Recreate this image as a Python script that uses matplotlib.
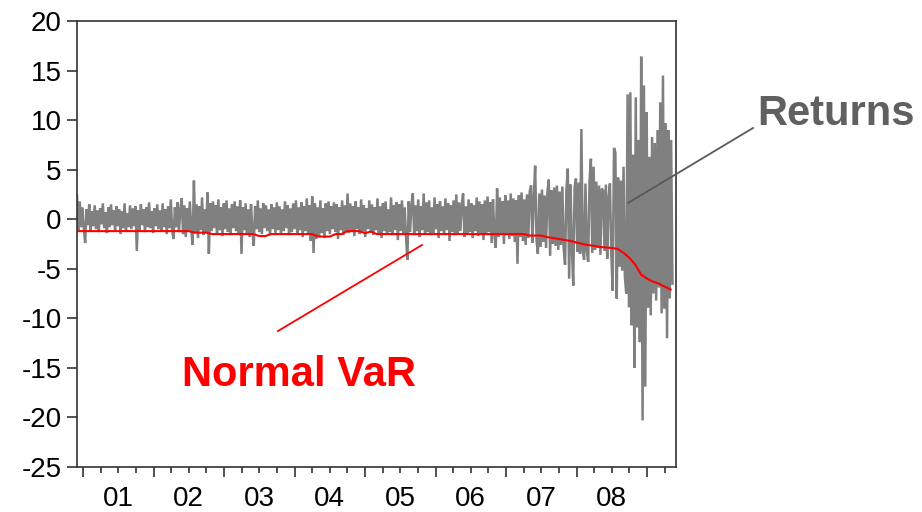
import numpy as np
import matplotlib
matplotlib.use("Agg")
import matplotlib.pyplot as plt
from matplotlib.lines import Line2D

plt.rcParams['font.family'] = ['Liberation Sans', 'DejaVu Sans']
plt.rcParams['axes.unicode_minus'] = False

# weekly returns (%), Dec 2000 - Apr 2009
returns = [
    2.4, -1.1, 1.8, -0.8, 1.2, -0.9, -2.4, 1.0, -0.6, 1.5,
    -1.2, 0.8, -0.7, 1.4, -1.0, 0.9, -1.3, 1.1, -0.5, 1.6,
    -0.9, 0.7, -1.4, 1.2, -0.8, 1.5, -0.6, 0.9, -1.1, 1.3,
    -0.7, 1.0, -1.5, 0.8, -0.9, 1.6, -1.2, 0.6, -0.8, 1.4,
    -1.0, 1.1, -0.7, 1.3, -3.2, 0.9, -1.1, 1.5, -0.6, 1.0,
    -1.3, 1.2, -0.8, 1.7, -0.9, 0.8, -1.4, 1.1, -0.7, 1.5,
    -1.0, 0.9, -1.2, 1.6, -0.8, 1.0, -1.5, 1.3, -0.9, 2.0,
    -1.1, -2.0, 1.2, -0.8, 1.7, -1.3, 1.0, 2.1, -1.5, 1.4,
    -1.8, 1.1, -1.2, 1.8, -1.0, -2.6, 3.9, -1.4, 1.5, -1.9,
    1.3, -1.1, 2.2, -1.6, 1.0, -1.3, 2.7, -3.5, 1.6, -1.2,
    1.8, -0.9, 1.4, -1.5, 2.0, -1.1, 1.2, -1.7, 1.6, -1.0,
    1.9, -1.3, 1.1, -1.6, 1.5, -0.9, 1.8, -1.2, 1.3, -1.5,
    1.9, -3.5, 1.2, -1.1, 1.6, -1.4, 1.0, -1.8, 1.5, -1.2,
    -2.7, 1.3, -1.0, 1.9, -1.3, 1.1, -1.5, 1.6, -0.9, 1.4,
    -1.2, 1.0, -1.6, 1.5, -1.0, 1.2, -1.4, 1.7, -1.1, 1.3,
    -1.5, 1.0, -1.2, 1.8, -0.9, 1.4, -1.6, 1.1, -1.3, 1.6,
    -1.0, 1.9, -1.4, 1.2, -1.1, 1.7, -1.8, 1.3, -1.2, 2.1,
    -1.5, 1.4, -2.2, 2.3, -3.4, 1.6, -2.0, 1.2, -1.7, 1.9,
    -1.4, 1.1, -1.9, 1.6, -1.2, 1.8, -1.5, 1.3, -1.0, 1.7,
    -1.3, 1.5, -2.0, 1.2, -1.1, 1.9, -1.6, 1.4, -1.2, 2.6,
    -1.4, 1.6, -1.1, 1.3, -1.7, 1.8, -1.0, 1.2, -1.5, 2.0,
    -1.2, 1.4, -1.8, 1.1, -1.0, 1.9, -1.3, 1.5, -1.6, 1.2,
    -1.1, 2.1, -1.4, 1.3, -1.9, 1.6, -1.2, 1.8, -1.5, 1.0,
    -1.3, 2.2, -1.6, 1.4, -1.1, 1.7, -2.1, 1.5, -1.2, 1.9,
    -1.4, 1.2, -1.7, -4.1, 1.8, -1.3, 1.5, 2.6, -1.6, 1.4,
    -1.2, 2.0, -1.8, 1.3, -1.1, 2.6, -1.5, 1.7, -1.3, 1.9,
    -1.6, 1.2, -1.4, 2.2, -1.0, 1.5, -1.9, 1.8, -1.2, 1.3,
    -1.5, 2.1, -1.1, 1.6, -2.2, 1.4, -1.3, 1.9, -1.6, 2.5,
    -1.4, 1.7, -1.2, 1.5, 2.6, -1.8, 1.3, -1.5, 2.0, -1.3,
    1.6, -1.9, 1.4, -1.2, 2.2, -1.7, 1.8, -1.4, 1.5, -2.1,
    1.9, -1.6, 2.3, -1.3, 1.7, -2.4, 2.0, -1.5, -2.9, 3.1,
    -1.8, 2.2, -1.4, 1.8, -2.5, 2.4, -1.6, 1.9, -2.0, 2.6,
    -1.7, 2.1, -2.3, 1.9, -4.5, 2.4, -1.8, 2.7, -2.2, 2.0,
    -2.6, 2.5, -1.9, 2.8, 3.4, -2.4, 2.2, 5.4, -2.1, -3.5,
    2.6, -2.8, 3.0, -2.3, 2.4, -2.9, 2.7, 4.0, -3.7, 2.9,
    -2.5, 3.2, -2.7, 3.4, -3.1, 2.8, -2.6, 3.3, -3.0, -4.6,
    3.0, 5.1, -6.0, 3.5, -2.9, -6.7, 3.2, 4.1, -3.3, 3.7,
    -3.5, 9.1, -3.0, -4.1, 3.6, -3.2, -4.3, 3.9, 6.1, -3.4,
    5.3, -3.1, 3.8, -2.9, 3.4, -3.6, 3.1, 2.9, -3.2, 3.5,
    -4.0, 2.2, 3.6, -3.5, -7.2, 7.2, 6.7, -8.0, 4.2, -4.8,
    3.9, -5.2, 5.3, -5.8, -7.5, 12.6, -8.9, 12.8, -10.7, 6.5,
    -15.0, 12.3, -10.9, 8.0, -12.4, 16.4, -20.3, 13.5, -16.9, 10.8,
    -8.9, 6.3, -9.7, 8.3, -7.5, 7.7, -8.2, 9.0, -6.9, 11.8,
    -9.5, 14.5, -9.0, 9.7, -12.0, 9.0, -8.0, 8.0, -6.5,
]

# monthly Normal VaR level, Dec 2000 - Apr 2009
var_normal = [
    -1.2, -1.2, -1.2, -1.2, -1.2, -1.2, -1.2, -1.2, -1.2, -1.2,
    -1.2, -1.2, -1.2, -1.2, -1.2, -1.2, -1.2, -1.2, -1.2, -1.2,
    -1.35, -1.35, -1.35,
    -1.5, -1.5, -1.5, -1.5, -1.5, -1.5, -1.5, -1.5,
    -1.7, -1.7,
    -1.5, -1.5, -1.5, -1.5, -1.5, -1.5, -1.5, -1.5,
    -1.75, -1.75, -1.75,
    -1.5, -1.5,
    -1.2, -1.2, -1.2,
    -1.4, -1.25,
    -1.5, -1.5, -1.5, -1.5, -1.5, -1.5, -1.5, -1.5, -1.5, -1.5,
    -1.5, -1.5, -1.5, -1.5, -1.5, -1.5, -1.5, -1.5, -1.5, -1.5,
    -1.5, -1.5, -1.5, -1.5, -1.5, -1.5,
    -1.65, -1.65, -1.65,
    -1.8, -1.9, -2.0, -2.1, -2.2, -2.35, -2.5, -2.6, -2.7, -2.8,
    -2.85, -2.9, -3.0, -3.4, -3.9, -4.6, -5.6, -6.0, -6.3, -6.5,
    -6.8, -7.1,
]

year_labels = ["01", "02", "03", "04", "05", "06", "07", "08"]

x_ret = np.linspace(2000.915, 2009.36, len(returns))
x_var = 2000.917 + np.arange(len(var_normal)) / 12.0

fig = plt.figure(figsize=(9.22, 5.12), dpi=100)
ax = fig.add_axes([77 / 922, 1 - 467 / 512, 599 / 922, 446 / 512])

ax.plot(x_ret, returns, color='#808080', lw=1.8, solid_joinstyle='miter')
ax.plot(x_var, var_normal, color='#ff0000', lw=1.5)

ax.set_xlim(2000.915, 2009.41)
ax.set_ylim(-25, 20)
ax.set_yticks(range(-25, 21, 5))
ax.set_xticks(range(2001, 2010))
ax.set_xticklabels([])
ax.set_xticks(np.arange(2001, 2009.3, 0.25), minor=True)

for s in ax.spines.values():
    s.set_linewidth(1.2)
    s.set_color('#333333')
ax.tick_params(axis='both', which='major', direction='out', length=7,
               width=1.2, color='#333333', labelsize=20, pad=4)
ax.tick_params(axis='x', which='minor', direction='out', length=4.5,
               width=1.2, color='#333333')

for i, lab in enumerate(year_labels):
    ax.text(2001.5 + i, -0.087, lab, transform=ax.get_xaxis_transform(),
            ha='center', va='baseline', fontsize=20)

# callouts
fig.add_artist(Line2D([753 / 922, 628 / 922], [1 - 128 / 512, 1 - 203 / 512],
                      color='#595959', lw=1.3, transform=fig.transFigure))
fig.add_artist(Line2D([278 / 922, 422 / 922], [1 - 331 / 512, 1 - 245 / 512],
                      color='#ff0000', lw=1.3, transform=fig.transFigure))
fig.text(757 / 922, 1 - 125 / 512, "Returns", color='#606060', fontsize=30,
         fontweight='bold', ha='left', va='baseline')
fig.text(182 / 922, 1 - 386 / 512, "Normal VaR", color='#ff0000', fontsize=30,
         fontweight='bold', ha='left', va='baseline')

fig.savefig('out.png', dpi=100)
